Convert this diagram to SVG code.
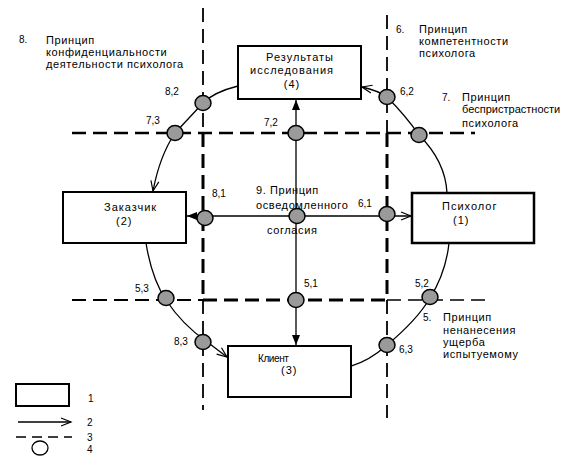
<svg xmlns="http://www.w3.org/2000/svg" width="564" height="466" viewBox="0 0 564 466">
<style>
text{font-family:"Liberation Sans",Arial,sans-serif;font-size:11px;letter-spacing:0.6px;fill:#000}
.lbl{font-size:10px;letter-spacing:0}
.bt{font-size:11px;letter-spacing:1px}
.box{fill:#fff;stroke:#000;stroke-width:2}
.pt{fill:#9a9a9a;stroke:#000;stroke-width:1.5}
.conn{fill:none;stroke:#000;stroke-width:1.3}
.d1{fill:none;stroke:#000;stroke-width:1.8;stroke-dasharray:14 7}
.d2{fill:none;stroke:#000;stroke-width:3;stroke-dasharray:14 7}
</style>
<defs>
<marker id="af" markerUnits="userSpaceOnUse" markerWidth="12" markerHeight="10" refX="10" refY="4" orient="auto"><path d="M0,0 L10,4 L0,8 z" fill="#000"/></marker>
<marker id="ao" markerUnits="userSpaceOnUse" markerWidth="14" markerHeight="12" refX="11" refY="5" orient="auto"><path d="M1,1 L11,5 L1,9" fill="none" stroke="#000" stroke-width="1.2"/></marker>
</defs>
<rect width="564" height="466" fill="#fff"/>
<g id="dashed-lines">
<path class="d1" d="M203,8 V133"/>
<path class="d2" d="M203,133 V300"/>
<path class="d1" d="M203,300 V410"/>
<path class="d1" d="M387,15 V133"/>
<path class="d2" d="M387,133 V300"/>
<path class="d1" d="M387,300 V418"/>
<path class="d2" d="M72,133 H475" style="stroke-width:2.3"/>
<path class="d1" d="M72,300 H203"/>
<path class="d2" d="M203,300 H387"/>
<path class="d1" d="M387,300 H487" style="stroke-width:1.4"/>
</g>
<g id="connectors">
<path class="conn" d="M296,216 V100" marker-end="url(#af)"/>
<path class="conn" d="M296,216 V345" marker-end="url(#af)"/>
<path class="conn" d="M297,216 H187" marker-end="url(#af)"/>
<path class="conn" d="M297,216 H411" marker-end="url(#ao)"/>
<path class="conn" d="M238,86 C222,90 210,96 203,103 L175,133 C165,148 157,170 153,191" marker-end="url(#ao)"/>
<path class="conn" d="M146,243 C150,268 156,285 166,300 C178,318 190,330 206,341 L227,357" marker-end="url(#ao)"/>
<path class="conn" d="M351,366 C365,362 377,354 387,345 C405,330 420,315 430,298 C440,282 447,262 449,243"/>
<path class="conn" d="M447,193 C446,172 436,152 419,135 C410,122 398,108 387,97 C380,92 371,89 362,87" marker-end="url(#ao)"/>
</g>
<g id="node-results">
<rect class="box" x="238" y="46" width="123" height="53"/>
<text class="bt" x="300" y="61" text-anchor="middle">Результаты</text>
<text class="bt" x="292" y="74" text-anchor="middle">исследования</text>
<text class="bt" x="292" y="88" text-anchor="middle">(4)</text>
</g>
<g id="node-customer">
<rect class="box" x="63" y="192" width="123" height="51"/>
<text class="bt" x="104" y="211">Заказчик</text>
<text class="bt" x="116" y="225">(2)</text>
</g>
<g id="node-psychologist">
<rect class="box" x="412" y="193" width="122" height="50" style="stroke-width:2.5"/>
<text class="bt" x="442" y="210">Психолог</text>
<text class="bt" x="453" y="224">(1)</text>
</g>
<g id="node-client">
<rect class="box" x="228" y="346" width="123" height="51"/>
<text x="258" y="362" style="font-size:10px;letter-spacing:-0.4px">Клиент</text>
<text class="bt" x="281" y="374">(3)</text>
</g>
<g id="p-8-2"><ellipse class="pt" cx="203" cy="103" rx="8" ry="7.5"/><text class="lbl" x="165" y="95">8,2</text></g>
<g id="p-7-3"><ellipse class="pt" cx="175" cy="133" rx="8" ry="7.5"/><text class="lbl" x="146" y="124">7,3</text></g>
<g id="p-7-2"><ellipse class="pt" cx="296" cy="133" rx="8" ry="7.5"/><text class="lbl" x="264" y="126">7,2</text></g>
<g id="p-6-2"><ellipse class="pt" cx="387" cy="97" rx="8" ry="7.5"/><text class="lbl" x="400" y="95">6,2</text></g>
<g id="p-7-1"><ellipse class="pt" cx="419" cy="135" rx="8" ry="7.5"/></g>
<g id="p-8-1"><ellipse class="pt" cx="205" cy="218" rx="8" ry="7.5"/><text class="lbl" x="212" y="197">8,1</text></g>
<g id="p-9"><ellipse class="pt" cx="297" cy="216" rx="8" ry="7.5"/></g>
<g id="p-6-1"><ellipse class="pt" cx="387" cy="214" rx="8" ry="7.5"/><text class="lbl" x="358" y="207">6,1</text></g>
<g id="p-5-3"><ellipse class="pt" cx="166" cy="298" rx="8" ry="7.5"/><text class="lbl" x="135" y="292">5,3</text></g>
<g id="p-5-1"><ellipse class="pt" cx="296" cy="300" rx="8" ry="7.5"/><text class="lbl" x="304" y="287">5,1</text></g>
<g id="p-5-2"><ellipse class="pt" cx="430" cy="297" rx="8" ry="7.5"/><text class="lbl" x="415" y="287">5,2</text></g>
<g id="p-8-3"><ellipse class="pt" cx="203" cy="342" rx="8" ry="7.5"/><text class="lbl" x="174" y="345">8,3</text></g>
<g id="p-6-3"><ellipse class="pt" cx="387" cy="345" rx="8" ry="7.5"/><text class="lbl" x="399" y="353">6,3</text></g>
<g id="principles">
<text class="lbl" x="19" y="43">8.</text>
<text x="46" y="44">Принцип</text>
<text x="46" y="56">конфиденциальности</text>
<text x="46" y="68">деятельности психолога</text>
<text class="lbl" x="396" y="33">6.</text>
<text x="419" y="33">Принцип</text>
<text x="419" y="45">компетентности</text>
<text x="419" y="57">психолога</text>
<text class="lbl" x="442" y="101">7.</text>
<text x="462" y="101">Принцип</text>
<text x="462" y="113" style="letter-spacing:0">беспристрастности</text>
<text x="462" y="127">психолога</text>
<text class="lbl" x="423" y="321">5.</text>
<text x="443" y="321">Принцип</text>
<text x="443" y="334">ненанесения</text>
<text x="443" y="346">ущерба</text>
<text x="443" y="358">испытуемому</text>
<text x="256" y="194">9. Принцип</text>
<text x="256" y="209">осведомленного</text>
<text x="267" y="234">согласия</text>
</g>
<g id="legend">
<rect x="16" y="384" width="53" height="22" fill="#fff" stroke="#000" stroke-width="2"/>
<text class="lbl" x="88" y="402">1</text>
<path class="conn" d="M18,422 H71" marker-end="url(#ao)"/>
<text class="lbl" x="87" y="426">2</text>
<path d="M16,437 H72" fill="none" stroke="#000" stroke-width="1.5" stroke-dasharray="10 6"/>
<text class="lbl" x="87" y="441">3</text>
<ellipse cx="40" cy="448" rx="8" ry="7" fill="#fff" stroke="#000" stroke-width="1.3"/>
<text class="lbl" x="87" y="453">4</text>
</g>
</svg>
